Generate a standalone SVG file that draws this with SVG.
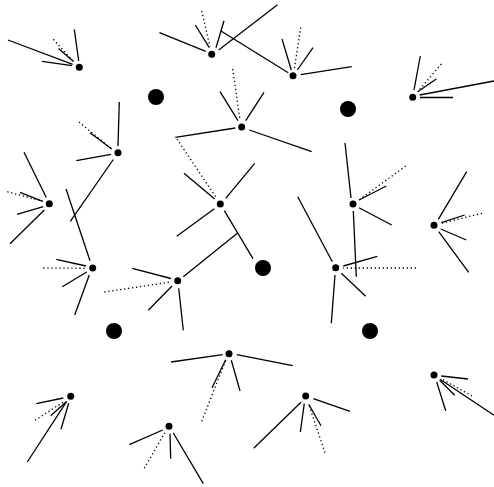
<svg xmlns="http://www.w3.org/2000/svg" width="494" height="487" viewBox="0 0 494 487">
<style>
line{stroke:#000;stroke-width:1.3;fill:none}
line.d{stroke-dasharray:1.3,2.7}
circle.s{fill:#000}
circle.b{fill:#000}
</style>
<rect width="494" height="487" fill="#fff"/>
<g id="big">
<circle class="b" cx="156" cy="97" r="8"/>
<circle class="b" cx="348" cy="109" r="8"/>
<circle class="b" cx="263" cy="268" r="8"/>
<circle class="b" cx="114" cy="331" r="8"/>
<circle class="b" cx="370" cy="331" r="8"/>
</g>
<g id="nA">
<circle class="s" cx="79.3" cy="67.3" r="3.5"/>
<line x1="8" y1="40" x2="72.7" y2="64.3"/>
<line x1="42" y1="61.3" x2="72" y2="65.7"/>
<line x1="74.3" y1="29.3" x2="78.7" y2="61"/>
<line class="d" x1="53.3" y1="39.3" x2="74" y2="62"/>
<line x1="58.5" y1="48.5" x2="73.5" y2="61.5"/>
</g>
<g id="nB">
<circle class="s" cx="118" cy="152.7" r="3.5"/>
<line x1="119.3" y1="102" x2="118" y2="146"/>
<line class="d" x1="79" y1="122" x2="111.7" y2="149"/>
<line x1="90" y1="132.7" x2="111.7" y2="149"/>
<line x1="76.3" y1="160.7" x2="111" y2="154.3"/>
<line x1="113.3" y1="159.5" x2="70.3" y2="221.3"/>
</g>
<g id="nC">
<circle class="s" cx="49.3" cy="203.7" r="3.5"/>
<line x1="24" y1="152.3" x2="46.3" y2="197.5"/>
<line class="d" x1="7.3" y1="191.7" x2="42.7" y2="201.3"/>
<line x1="20" y1="192.3" x2="42.7" y2="201.3"/>
<line x1="17" y1="214.3" x2="43.3" y2="206.7"/>
<line x1="10" y1="243.7" x2="44.3" y2="210"/>
</g>
<g id="nD">
<circle class="s" cx="92.7" cy="268" r="3.5"/>
<line x1="66" y1="189" x2="90" y2="260.7"/>
<line x1="56.3" y1="259.3" x2="86" y2="266"/>
<line class="d" x1="43.3" y1="268" x2="86" y2="268.3"/>
<line x1="62.3" y1="286.7" x2="86.7" y2="272"/>
<line x1="74.7" y1="315" x2="89.3" y2="275"/>
</g>
<g id="nE">
<circle class="s" cx="211.7" cy="54.3" r="3.5"/>
<line x1="159.5" y1="32.7" x2="205.7" y2="51.3"/>
<line x1="195.3" y1="25" x2="209.3" y2="47.7"/>
<line class="d" x1="201.7" y1="11" x2="210" y2="46.7"/>
<line x1="224" y1="20.7" x2="216" y2="47.7"/>
<line x1="277.5" y1="4.7" x2="218.7" y2="50"/>
</g>
<g id="nF">
<circle class="s" cx="293" cy="75.7" r="3.5"/>
<line x1="221" y1="31" x2="288.3" y2="72.7"/>
<line x1="282" y1="39" x2="291.3" y2="70"/>
<line class="d" x1="300.7" y1="27.3" x2="294.3" y2="69.3"/>
<line x1="313" y1="47.7" x2="297.3" y2="70"/>
<line x1="300.7" y1="74.7" x2="351.7" y2="66.7"/>
</g>
<g id="nG">
<circle class="s" cx="241.7" cy="127" r="3.5"/>
<line x1="220" y1="91.7" x2="238" y2="120.7"/>
<line class="d" x1="232.7" y1="69" x2="240" y2="120"/>
<line x1="264" y1="92.3" x2="245.7" y2="120.7"/>
<line x1="175.3" y1="137.3" x2="235.3" y2="128"/>
<line x1="249.3" y1="130" x2="311.7" y2="151.7"/>
</g>
<g id="nH">
<circle class="s" cx="220.3" cy="204" r="3.5"/>
<line class="d" x1="177" y1="139" x2="216.7" y2="198.3"/>
<line x1="184" y1="173.3" x2="214.7" y2="199"/>
<line x1="254.7" y1="163.3" x2="225.7" y2="198.3"/>
<line x1="176.7" y1="236.3" x2="214.3" y2="208.7"/>
<line x1="224.3" y1="210.7" x2="253" y2="258.7"/>
</g>
<g id="nI">
<circle class="s" cx="177.7" cy="280.7" r="3.5"/>
<line x1="237.3" y1="233.3" x2="183.3" y2="276.7"/>
<line x1="132.3" y1="268.3" x2="171" y2="278.5"/>
<line class="d" x1="104.3" y1="292" x2="171" y2="282"/>
<line x1="148.3" y1="310.3" x2="172" y2="286"/>
<line x1="178.7" y1="288.3" x2="183.3" y2="330.3"/>
</g>
<g id="nJ">
<circle class="s" cx="353" cy="204" r="3.5"/>
<line x1="345" y1="143" x2="351" y2="198"/>
<line class="d" x1="405.7" y1="166" x2="359" y2="200"/>
<line x1="386.3" y1="186" x2="359" y2="200"/>
<line x1="391.7" y1="225" x2="359" y2="207.7"/>
<line x1="353.3" y1="211" x2="356.3" y2="276.7"/>
</g>
<g id="nK">
<circle class="s" cx="335.7" cy="267.7" r="3.5"/>
<line x1="297.7" y1="196.7" x2="332.3" y2="261.7"/>
<line x1="377.3" y1="256.3" x2="343.3" y2="266"/>
<line class="d" x1="416" y1="268" x2="343.3" y2="268"/>
<line x1="365.7" y1="296.3" x2="341.3" y2="273.3"/>
<line x1="331.3" y1="323.3" x2="335" y2="275"/>
</g>
<g id="nL">
<circle class="s" cx="434" cy="225.3" r="3.5"/>
<line x1="466.7" y1="171.7" x2="438.3" y2="219.3"/>
<line class="d" x1="482" y1="213.3" x2="441.3" y2="223.3"/>
<line x1="464.7" y1="215" x2="441.3" y2="222.7"/>
<line x1="466.3" y1="240" x2="440.7" y2="229"/>
<line x1="468.7" y1="272.3" x2="438.7" y2="231.7"/>
</g>
<g id="nM">
<circle class="s" cx="412.7" cy="97.3" r="3.5"/>
<line x1="420.3" y1="56" x2="414" y2="90"/>
<line class="d" x1="441.3" y1="64" x2="417.7" y2="91.7"/>
<line x1="436.3" y1="79" x2="417.7" y2="91.7"/>
<line x1="494" y1="81" x2="419.7" y2="95"/>
<line x1="453" y1="97.5" x2="420" y2="97.5"/>
</g>
<g id="nN">
<circle class="s" cx="229" cy="353.7" r="3.5"/>
<line x1="171" y1="362" x2="222.7" y2="354.7"/>
<line x1="292.7" y1="365.7" x2="236.7" y2="354.7"/>
<line x1="212" y1="387.7" x2="225.7" y2="359.7"/>
<line class="d" x1="201.7" y1="421.3" x2="225.7" y2="360.3"/>
<line x1="240" y1="391" x2="231.3" y2="360.3"/>
</g>
<g id="nO">
<circle class="s" cx="305.7" cy="396" r="3.5"/>
<line x1="253.7" y1="448.3" x2="301" y2="402.3"/>
<line x1="300.3" y1="432" x2="304.3" y2="403.7"/>
<line x1="321" y1="425.7" x2="308.7" y2="404.3"/>
<line class="d" x1="325" y1="452.7" x2="308.7" y2="404.3"/>
<line x1="313.3" y1="398.7" x2="350" y2="411.3"/>
</g>
<g id="nP">
<circle class="s" cx="169" cy="426.3" r="3.5"/>
<line x1="129.3" y1="444.7" x2="162.7" y2="430"/>
<line class="d" x1="144.3" y1="468.3" x2="164.7" y2="432.7"/>
<line x1="170.7" y1="458.7" x2="170" y2="433.7"/>
<line x1="203.3" y1="483.7" x2="173.3" y2="433"/>
</g>
<g id="nQ">
<circle class="s" cx="70.7" cy="396.3" r="3.5"/>
<line x1="36.3" y1="403.7" x2="63.3" y2="398"/>
<line class="d" x1="35" y1="420.3" x2="63.3" y2="402"/>
<line x1="50.7" y1="415.7" x2="66" y2="402"/>
<line x1="61" y1="429.3" x2="68.7" y2="403.3"/>
<line x1="27.3" y1="462" x2="66.7" y2="401.3"/>
</g>
<g id="nR">
<circle class="s" cx="434" cy="375" r="3.5"/>
<line x1="468" y1="379" x2="441.3" y2="376"/>
<line x1="445.7" y1="410.7" x2="436.7" y2="382"/>
<line x1="454.7" y1="395.3" x2="439.7" y2="380.3"/>
<line x1="494" y1="415.3" x2="440" y2="379.3"/>
<line class="d" x1="472" y1="396" x2="441" y2="378.5"/>
</g>
</svg>
